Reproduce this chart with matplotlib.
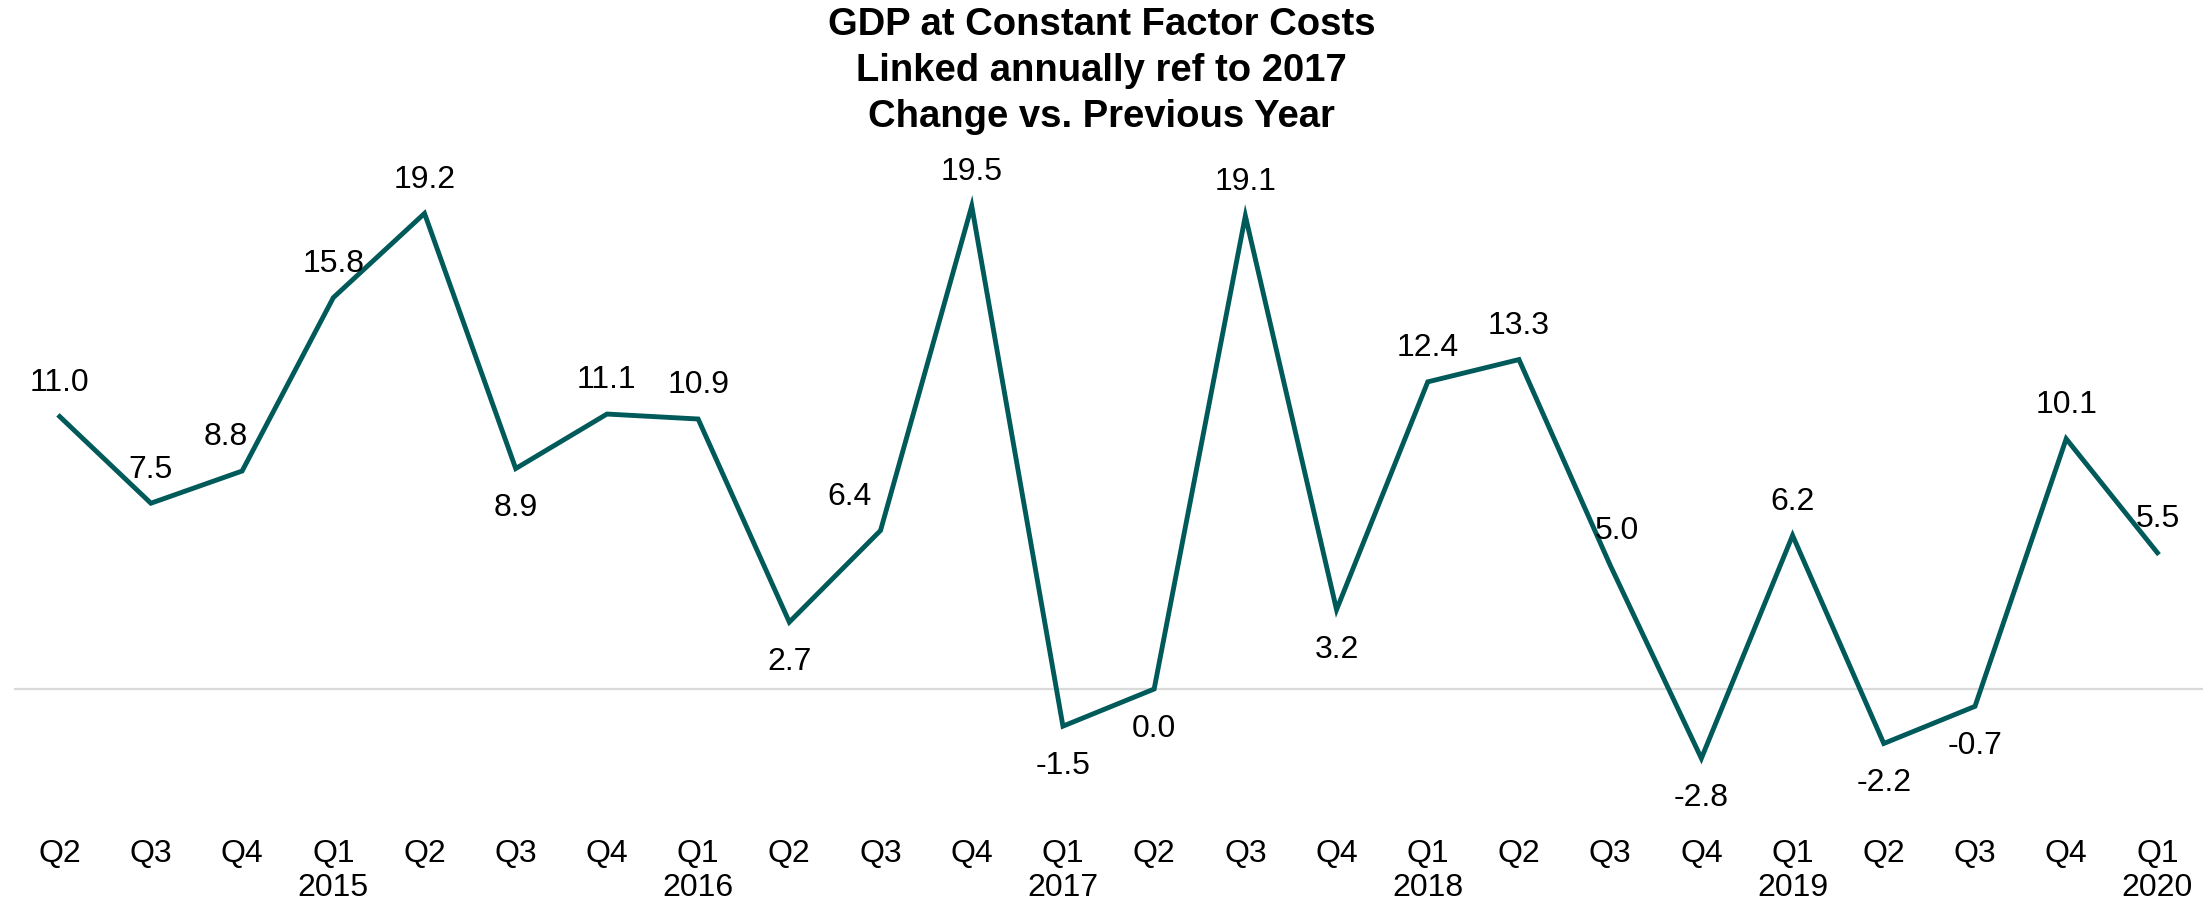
import numpy as np
import matplotlib
matplotlib.use("Agg")
import matplotlib.pyplot as plt

plt.rcParams['font.family'] = ['Liberation Sans', 'DejaVu Sans']

# quarterly data, Q2 2014 .. Q1 2020
quarters = ['Q2', 'Q3', 'Q4', 'Q1', 'Q2', 'Q3', 'Q4', 'Q1', 'Q2', 'Q3', 'Q4', 'Q1',
            'Q2', 'Q3', 'Q4', 'Q1', 'Q2', 'Q3', 'Q4', 'Q1', 'Q2', 'Q3', 'Q4', 'Q1']
years = ['', '', '', '2015', '', '', '', '2016', '', '', '', '2017',
         '', '', '', '2018', '', '', '', '2019', '', '', '', '2020']
gdp_change = [11.0, 7.5, 8.8, 15.8, 19.2, 8.9, 11.1, 10.9, 2.7, 6.4, 19.5, -1.5,
              0.0, 19.1, 3.2, 12.4, 13.3, 5.0, -2.8, 6.2, -2.2, -0.7, 10.1, 5.5]

# label placement: a = above, b = below
label_pos = ['a', 'a', 'a', 'a', 'a', 'b', 'a', 'a', 'b', 'a', 'a', 'b',
             'b', 'a', 'b', 'a', 'a', 'a', 'b', 'a', 'b', 'b', 'a', 'a']
label_dx = {2: -12, 9: -22, 17: 5}

line_col = '#005A5A'
fs = 23

fig = plt.figure(figsize=(22.03, 9.04), dpi=100)
ax = fig.add_axes([0.0064, 1 - 800 / 904, 0.9936, 650 / 904])

x = np.arange(len(gdp_change))
ax.axhline(0, color='#d9d9d9', lw=1.6, zorder=1)
ax.plot(x, gdp_change, color=line_col, lw=3.5, solid_joinstyle='miter', zorder=3)

for i, v in enumerate(gdp_change):
    dx = label_dx.get(i, 0)
    if label_pos[i] == 'a':
        ax.annotate(f'{v:.1f}', (i, v), xytext=(dx, 25), textcoords='offset points',
                    ha='center', va='center', fontsize=fs)
    else:
        ax.annotate(f'{v:.1f}', (i, v), xytext=(dx, -28), textcoords='offset points',
                    ha='center', va='center', fontsize=fs)

ax.set_xlim(-0.5, len(gdp_change) - 0.5)
ax.set_ylim((690 - 800) / 24.77, (690 - 150) / 24.77)
ax.set_xticks(x)
ax.set_xticklabels([q + '\n' + y for q, y in zip(quarters, years)],
                   fontsize=fs, linespacing=1.17)
ax.tick_params(axis='x', length=0, pad=28)
ax.set_yticks([])
for s in ax.spines.values():
    s.set_visible(False)

fig.text(0.5, 1 - 7 / 904,
         'GDP at Constant Factor Costs\nLinked annually ref to 2017\nChange vs. Previous Year',
         ha='center', va='top', fontsize=27.5, fontweight='bold', linespacing=1.36)

fig.savefig('out.png', dpi=100)
